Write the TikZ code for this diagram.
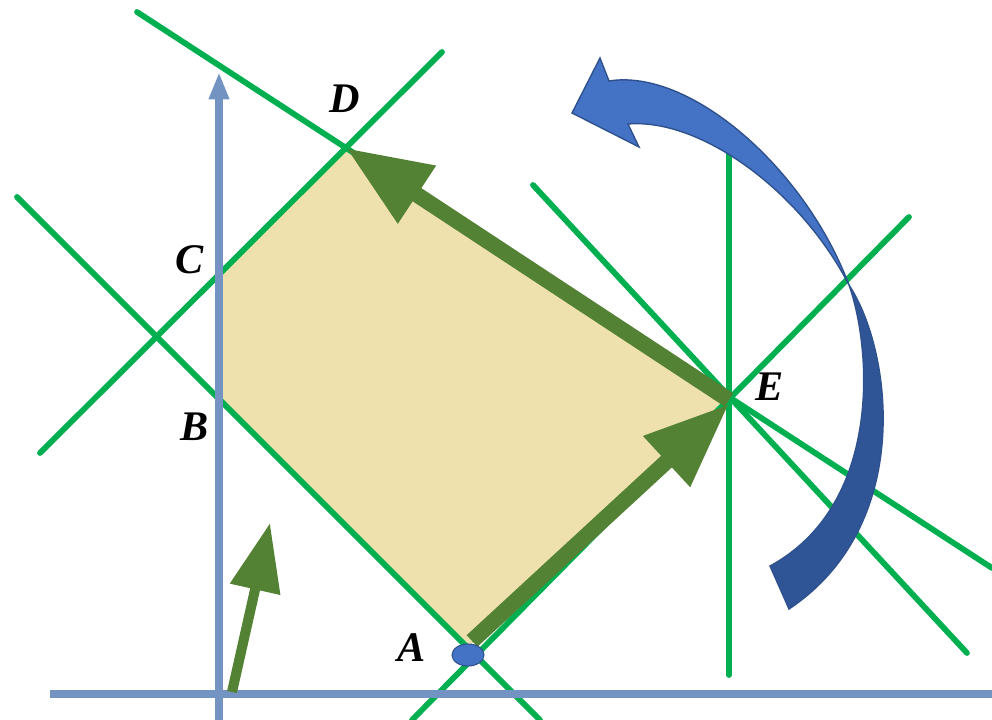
\documentclass[tikz,border=0pt]{standalone}
\usepackage{fontspec}
\setmainfont{Liberation Serif}
\usetikzlibrary{arrows.meta,calc,shapes.geometric}
\definecolor{gline}{HTML}{00B050}
\definecolor{axisc}{HTML}{7393C3}
\definecolor{darkg}{HTML}{548235}
\definecolor{regfill}{HTML}{EEE1AE}
\definecolor{blueA}{HTML}{4472C4}
\definecolor{blueB}{HTML}{2F5597}
\definecolor{blueE}{HTML}{2F528F}
\begin{document}
\begin{tikzpicture}[x=0.02cm,y=-0.02cm,
  gl/.style={draw=gline,line width=3.3pt,line cap=round},
  ax/.style={draw=axisc,line width=5pt},
  bigarr/.style={draw=darkg,line width=9pt,-{Triangle[length=1.7cm,width=1.3cm]}},
  smallarr/.style={draw=darkg,line width=5.7pt,-{Triangle[length=1.36cm,width=0.98cm]}},
  lbl/.style={font=\fontsize{24}{24}\selectfont\bfseries\itshape,inner sep=0pt}]
\useasboundingbox (0,0) rectangle (992,720);
% key points
\coordinate (A) at (467,648);
\coordinate (B) at (220,400);
\coordinate (C) at (220,274);
\coordinate (D) at (346,148);
\coordinate (E) at (729,400);
% shaded region
\fill[regfill] (A) -- (B) -- (C) -- (D) -- (E) -- cycle;
% green lines
\coordinate (l1a) at (137,12);  \coordinate (l1b) at (992,568);
\coordinate (l2a) at (442,52);  \coordinate (l2b) at (40,453);
\coordinate (l3a) at (17,197);  \coordinate (l3b) at (540,720);
\coordinate (l4a) at (909,217); \coordinate (l4b) at (412,720);
\coordinate (l5a) at (533,185); \coordinate (l5b) at (967,653);
\coordinate (l6a) at (729,143); \coordinate (l6b) at (729,675);
\draw[gl] (l1a) -- (l1b);
\draw[gl] (l2a) -- (l2b);
\draw[gl] (l3a) -- (l3b);
\draw[gl] (l4a) -- (l4b);
\draw[gl] (l5a) -- (l5b);
\draw[gl] (l6a) -- (l6b);
% axes
\coordinate (xa) at (50,694); \coordinate (xb) at (992,694);
\coordinate (ya) at (219,720); \coordinate (yb) at (219,72);
\draw[ax] (xa) -- (xb);
\draw[ax,-{Triangle[length=0.55cm,width=0.38cm]}] (ya) -- (yb);
% dark green arrows
\coordinate (A0) at (472,641);
\coordinate (Et) at (729,404);
\draw[bigarr] (A0) -- (Et);
\draw[bigarr] (E) -- (D);
\coordinate (s0) at (232,692); \coordinate (s1) at (270,523);
\draw[smallarr] (s0) -- (s1);
% point A marker
\node[ellipse,minimum width=0.64cm,minimum height=0.44cm,inner sep=0pt,fill=blueA,draw=blueE,line width=0.6pt] (Adot) at (468,655) {};
% blue curved arrow
\fill[blueA,draw=blueE,line width=0.8pt] (609,81) .. controls (690,68) and (805,168) .. (849,285)
   .. controls (800,190) and (700,118) .. (628,124) -- (639,147) -- (572,113) -- (600,58) -- cycle;
\fill[blueB,draw=blueE,line width=0.8pt] (849,285) .. controls (892,350) and (915,525) .. (789,609)
   -- (770,566) .. controls (882,505) and (872,350) .. (849,285) -- cycle;
% labels
\node[lbl] (labD) at (345,99) {D};
\node[lbl] (labC) at (190,260) {C};
\node[lbl] (labB) at (195,427) {B};
\node[lbl] (labA) at (412,648) {A};
\node[lbl] (labE) at (770,387) {E};
\end{tikzpicture}
\end{document}
